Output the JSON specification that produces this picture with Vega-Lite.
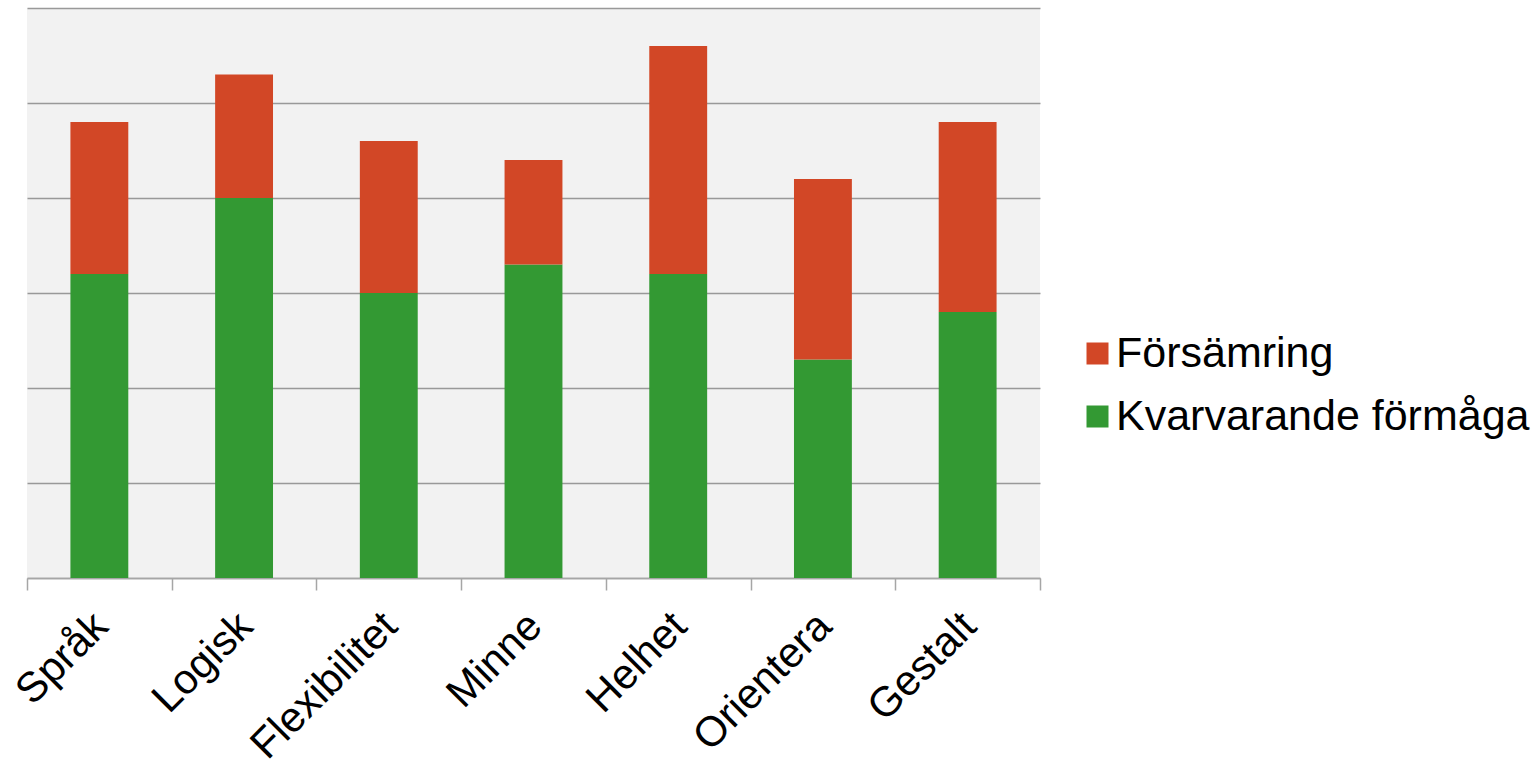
{
  "$schema": "https://vega.github.io/schema/vega-lite/v6.json",
  "width": 1013,
  "height": 570,
  "autosize": {"type": "none"},
  "padding": {"left": 27, "top": 8, "right": 497, "bottom": 188},
  "background": "white",
  "config": {
    "view": {"fill": "#f2f2f2", "stroke": null},
    "font": "Liberation Sans"
  },
  "data": {
    "values": [
      {"kategori": "Språk", "serie": "Kvarvarande förmåga", "varde": 3.2},
      {"kategori": "Språk", "serie": "Försämring", "varde": 1.6},
      {"kategori": "Logisk", "serie": "Kvarvarande förmåga", "varde": 4.0},
      {"kategori": "Logisk", "serie": "Försämring", "varde": 1.3},
      {"kategori": "Flexibilitet", "serie": "Kvarvarande förmåga", "varde": 3.0},
      {"kategori": "Flexibilitet", "serie": "Försämring", "varde": 1.6},
      {"kategori": "Minne", "serie": "Kvarvarande förmåga", "varde": 3.3},
      {"kategori": "Minne", "serie": "Försämring", "varde": 1.1},
      {"kategori": "Helhet", "serie": "Kvarvarande förmåga", "varde": 3.2},
      {"kategori": "Helhet", "serie": "Försämring", "varde": 2.4},
      {"kategori": "Orientera", "serie": "Kvarvarande förmåga", "varde": 2.3},
      {"kategori": "Orientera", "serie": "Försämring", "varde": 1.9},
      {"kategori": "Gestalt", "serie": "Kvarvarande förmåga", "varde": 2.8},
      {"kategori": "Gestalt", "serie": "Försämring", "varde": 2.0}
    ]
  },
  "mark": {"type": "bar", "width": {"band": 0.4}},
  "encoding": {
    "x": {
      "field": "kategori",
      "type": "nominal",
      "sort": null,
      "scale": {"paddingInner": 0, "paddingOuter": 0},
      "axis": {
        "title": null,
        "labelAngle": -45,
        "labelFontSize": 42,
        "labelColor": "black",
        "labelPadding": 15,
        "labelOffset": -13,
        "labelLimit": 500,
        "tickBand": "extent",
        "tickSize": 12,
        "tickColor": "#a6a6a6",
        "tickWidth": 1.5,
        "domainColor": "#a6a6a6",
        "domainWidth": 1.5,
        "labelOverlap": false
      }
    },
    "y": {
      "field": "varde",
      "type": "quantitative",
      "stack": "zero",
      "scale": {"domain": [0, 6], "nice": false},
      "axis": {
        "title": null,
        "labels": false,
        "ticks": false,
        "domain": false,
        "values": [0, 1, 2, 3, 4, 5, 6],
        "grid": true,
        "gridColor": "#999999",
        "gridWidth": 1.5
      }
    },
    "color": {
      "field": "serie",
      "type": "nominal",
      "scale": {
        "domain": ["Försämring", "Kvarvarande förmåga"],
        "range": ["#d24726", "#339933"]
      },
      "legend": {
        "title": null,
        "orient": "none",
        "legendX": 1049,
        "legendY": 324,
        "symbolType": "square",
        "symbolSize": 484,
        "symbolStrokeWidth": 0,
        "labelFontSize": 43,
        "labelColor": "black",
        "labelOffset": -3,
        "rowPadding": 19,
        "labelLimit": 600
      }
    },
    "order": {"field": "serie", "sort": "descending"}
  }
}
